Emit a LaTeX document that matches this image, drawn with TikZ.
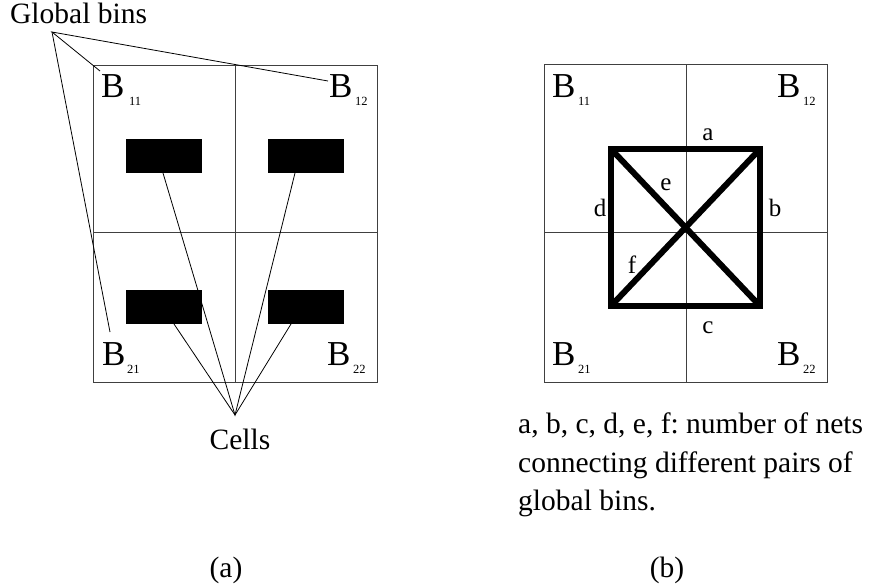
\documentclass[tikz,border=0pt]{standalone}
\usepackage{fontspec}
\setmainfont{Liberation Serif}
\frenchspacing
\begin{document}
\begin{tikzpicture}[x=1pt,y=-1pt,
  grid/.style={draw=black!75,line width=1pt},
  conn/.style={draw=black,line width=0.8pt},
  cellbox/.style={fill=black,draw=none},
  net/.style={draw=black,line width=6pt,line join=miter,line cap=butt},
  txt/.style={inner sep=0pt,font=\fontsize{29.5}{36}\selectfont},
  bigB/.style={inner sep=0pt,anchor=base west,font=\fontsize{35}{40}\selectfont},
  subB/.style={inner sep=0pt,anchor=base west,font=\fontsize{12.5}{14}\selectfont},
  netlbl/.style={inner sep=0pt,anchor=base,font=\fontsize{25}{28}\selectfont}]
\useasboundingbox (0,0) rectangle (872,587);
% ---------- (a) ----------
\draw[grid] (93,65) rectangle (377,382);
\draw[grid] (235,65) -- (235,382);
\draw[grid] (93,232) -- (377,232);
\path[cellbox] (126,139) rectangle (202,173);
\path[cellbox] (268,139) rectangle (344,173);
\path[cellbox] (126,290) rectangle (202,324);
\path[cellbox] (268,290) rectangle (344,324);
\node[bigB] (la11) at (101,97) {B};
\node[subB] (la11s) at (129,105) {11};
\node[bigB] (la12) at (329,97) {B};
\node[subB] (la12s) at (355,105) {12};
\node[bigB] (la21) at (102,365) {B};
\node[subB] (la21s) at (127,373) {21};
\node[bigB] (la22) at (327,365) {B};
\node[subB] (la22s) at (353,373) {22};
\node[txt,anchor=base west] (gbins) at (10,23) {Global bins};
\coordinate (gapex) at (52,32);
\coordinate (g11) at (100,71);
\coordinate (g12) at (328,81);
\coordinate (g21) at (110,332);
\draw[conn] (g11) -- (gapex) -- (g12);
\draw[conn] (gapex) -- (g21);
\node[txt,anchor=base] (cells) at (240,449) {Cells};
\coordinate (capex) at (235,415);
\coordinate (c11) at (163,173);
\coordinate (c12) at (295,173);
\coordinate (c21) at (174,324);
\coordinate (c22) at (291,324);
\draw[conn] (c11) -- (capex) -- (c12);
\draw[conn] (c21) -- (capex) -- (c22);
\node[txt,anchor=base] (capa) at (226,577) {(a)};
% ---------- (b) ----------
\draw[grid] (544,64) rectangle (827,382);
\draw[grid] (686,64) -- (686,382);
\draw[grid] (544,232) -- (827,232);
\coordinate (q1) at (611,149);
\coordinate (q2) at (760,149);
\coordinate (q3) at (760,306);
\coordinate (q4) at (611,306);
\draw[net] (q1) -- (q2) -- (q3) -- (q4) -- cycle;
\draw[net] (q1) -- (q3);
\draw[net] (q2) -- (q4);
\node[netlbl] (na) at (708,140) {a};
\node[netlbl] (nb) at (775,216) {b};
\node[netlbl] (nc) at (708,333) {c};
\node[netlbl] (nd) at (600,216) {d};
\node[netlbl] (ne) at (666,190) {e};
\node[netlbl] (nf) at (632,273) {f};
\node[bigB] (lb11) at (552,97) {B};
\node[subB] (lb11s) at (578,105) {11};
\node[bigB] (lb12) at (777,97) {B};
\node[subB] (lb12s) at (803,105) {12};
\node[bigB] (lb21) at (552,365) {B};
\node[subB] (lb21s) at (578,373) {21};
\node[bigB] (lb22) at (777,365) {B};
\node[subB] (lb22s) at (803,373) {22};
\node[txt,anchor=base west] (d1) at (518,433) {a, b, c, d, e, f: number of nets};
\node[txt,anchor=base west] (d2) at (518,472) {connecting different pairs of};
\node[txt,anchor=base west] (d3) at (518,510) {global bins.};
\node[txt,anchor=base] (capb) at (667,577) {(b)};
\end{tikzpicture}
\end{document}
